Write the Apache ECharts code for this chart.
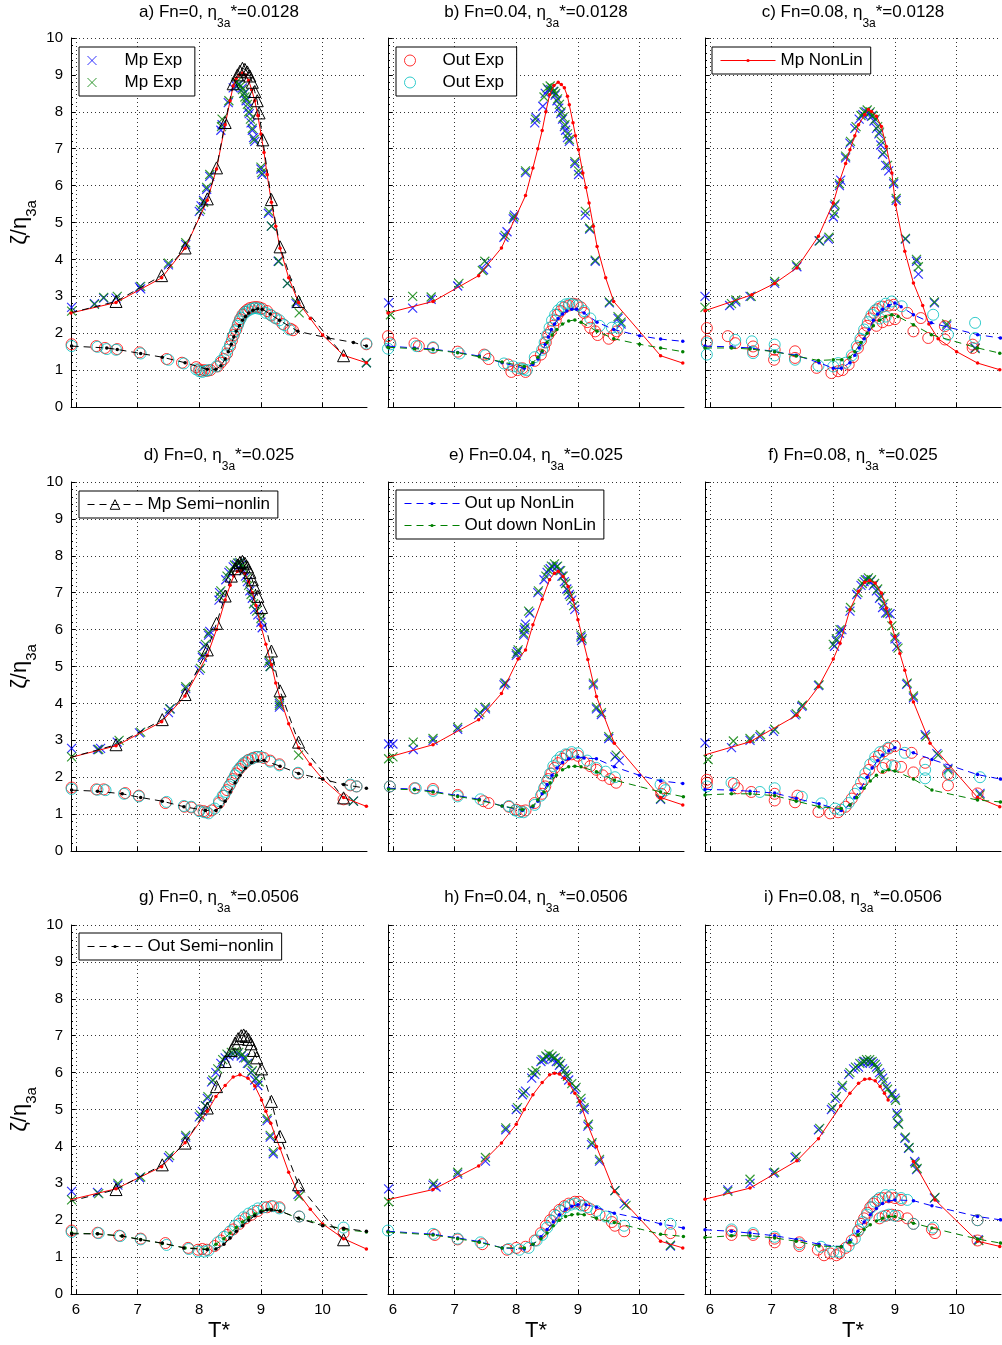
<!DOCTYPE html>
<html>
<head>
<meta charset="utf-8">
<script src="https://cdn.jsdelivr.net/npm/echarts@6/dist/echarts.min.js"></script>
<style>
  html, body { margin: 0; padding: 0; background: #fff; }
  #chart-container { width: 1002px; height: 1345px; }
</style>
</head>
<body>
<div id="chart-container"></div>
<script>
// ---- datos: ejes ----
const xTicks = [6, 7, 8, 9, 10];
const panelTitles = [
  ['a) Fn=0, η', '3a', '*=0.0128'], ['b) Fn=0.04, η', '3a', '*=0.0128'], ['c) Fn=0.08, η', '3a', '*=0.0128'],
  ['d) Fn=0, η', '3a', '*=0.025'], ['e) Fn=0.04, η', '3a', '*=0.025'], ['f) Fn=0.08, η', '3a', '*=0.025'],
  ['g) Fn=0, η', '3a', '*=0.0506'], ['h) Fn=0.04, η', '3a', '*=0.0506'], ['i) Fn=0.08, η', '3a', '*=0.0506']
];

// ---- panel a ----
const aMpExpBlue = [[5.93,2.7],[6.3,2.8],[6.45,2.95],[6.65,2.95],[7.03,3.25],[7.05,3.2],[7.5,3.85],[7.78,4.4],[8.0,5.3],[8.03,5.45],[8.07,5.6],[8.12,5.9],[8.17,6.25],[8.35,7.5],[8.37,7.65],[8.47,8.25],[8.55,8.65],[8.6,8.7],[8.65,8.75],[8.7,8.65],[8.73,8.5],[8.76,8.3],[8.79,8.1],[8.81,7.95],[8.84,7.7],[8.86,7.5],[8.88,7.3],[8.9,7.2],[9.0,6.45],[9.02,6.3],[9.12,5.25],[9.17,4.9],[9.28,3.95],[9.43,3.35],[9.57,2.8],[10.71,1.2]];
const aMpExpGreen = [[5.93,2.6],[6.3,2.78],[6.45,2.97],[6.67,3.0],[7.05,3.27],[7.5,3.9],[7.78,4.45],[8.02,5.35],[8.07,5.55],[8.12,5.95],[8.17,6.3],[8.36,7.6],[8.37,7.8],[8.48,8.3],[8.6,8.8],[8.64,8.75],[8.67,8.7],[8.7,8.6],[8.72,8.5],[8.74,8.4],[8.76,8.35],[8.78,8.2],[8.8,8.0],[8.83,7.8],[8.86,7.55],[8.89,7.25],[9.0,6.5],[9.01,6.35],[9.13,5.3],[9.17,4.9],[9.29,3.95],[9.43,3.35],[9.57,2.85],[9.62,2.55],[10.71,1.2]];
const aOutExpRed = [[5.93,1.7],[6.33,1.65],[6.47,1.6],[6.67,1.57],[7.03,1.48],[7.47,1.3],[7.72,1.2],[7.95,1.08],[8.0,1.02],[8.03,0.98],[8.08,1.0],[8.13,0.98],[8.18,1.0],[8.3,1.1],[8.35,1.2],[8.4,1.3],[8.45,1.45],[8.5,1.65],[8.53,1.8],[8.56,1.95],[8.6,2.1],[8.63,2.25],[8.66,2.38],[8.7,2.5],[8.74,2.58],[8.78,2.64],[8.82,2.68],[8.87,2.7],[8.92,2.71],[8.97,2.7],[9.02,2.67],[9.1,2.6],[9.17,2.48],[9.25,2.4],[9.35,2.25],[9.48,2.12],[9.52,2.08],[10.71,1.7]];
const aOutExpCyan = [[5.93,1.65],[6.35,1.63],[6.5,1.57],[6.65,1.55],[7.05,1.45],[7.5,1.28],[7.75,1.18],[7.95,1.02],[8.0,0.97],[8.05,0.95],[8.1,0.98],[8.15,1.0],[8.28,1.1],[8.35,1.25],[8.42,1.4],[8.46,1.55],[8.5,1.7],[8.54,1.9],[8.58,2.05],[8.62,2.2],[8.65,2.32],[8.68,2.42],[8.72,2.52],[8.76,2.58],[8.8,2.62],[8.85,2.66],[8.9,2.68],[8.95,2.67],[9.0,2.65],[9.08,2.55],[9.15,2.5],[9.22,2.42],[9.3,2.35],[9.38,2.22],[9.46,2.1],[10.71,1.72]];
const aMpNonLin = [[5.92,2.55],[6.65,2.83],[7.39,3.5],[7.77,4.3],[8.13,5.6],[8.28,6.45],[8.42,7.65],[8.5,8.3],[8.55,8.7],[8.6,8.9],[8.65,9.0],[8.7,9.05],[8.75,9.0],[8.8,8.85],[8.85,8.6],[8.9,8.3],[8.95,7.9],[9.0,7.4],[9.05,6.9],[9.1,6.3],[9.17,5.55],[9.24,4.9],[9.31,4.3],[9.45,3.5],[9.61,2.83],[9.8,2.4],[10.0,1.95],[10.34,1.4],[10.71,1.2]];
const aMpSemi = [[5.91,2.55],[6.65,2.86],[7.39,3.56],[7.77,4.31],[8.13,5.64],[8.28,6.48],[8.42,7.71],[8.55,8.76],[8.62,9.0],[8.66,9.1],[8.7,9.18],[8.74,9.15],[8.78,9.08],[8.82,8.97],[8.86,8.8],[8.9,8.55],[8.94,8.3],[8.97,7.97],[9.03,7.24],[9.17,5.62],[9.31,4.34],[9.61,2.86],[10.34,1.39]];
const aOutSemi = [[5.93,1.65],[6.5,1.6],[6.67,1.56],[7.05,1.45],[7.4,1.35],[7.77,1.2],[8.13,1.02],[8.27,1.02],[8.35,1.12],[8.42,1.3],[8.47,1.5],[8.52,1.7],[8.56,1.9],[8.6,2.05],[8.65,2.2],[8.7,2.35],[8.75,2.45],[8.8,2.55],[8.87,2.62],[8.95,2.66],[9.02,2.65],[9.15,2.52],[9.3,2.35],[9.6,2.05],[10.09,1.87],[10.5,1.75],[10.71,1.65]];

// ---- panel b ----
const bMpExpBlue = [[5.93,2.82],[6.32,2.68],[6.62,2.92],[7.05,3.28],[7.47,3.72],[7.52,3.9],[7.8,4.6],[7.85,4.75],[7.95,5.1],[7.97,5.2],[8.15,6.35],[8.3,7.7],[8.32,7.85],[8.43,8.15],[8.47,8.5],[8.52,8.6],[8.56,8.6],[8.6,8.55],[8.63,8.45],[8.66,8.3],[8.69,8.1],[8.72,7.95],[8.75,7.8],[8.78,7.6],[8.8,7.5],[8.83,7.3],[8.86,7.2],[8.95,6.6],[9.01,6.3],[9.12,5.2],[9.19,4.82],[9.28,3.95],[9.51,2.82],[9.65,2.4],[9.7,2.25]];
const bMpExpGreen = [[5.96,2.5],[6.32,3.0],[6.62,2.98],[7.07,3.35],[7.49,3.95],[7.45,3.7],[7.82,4.65],[7.96,5.15],[8.15,6.4],[8.31,7.8],[8.45,8.4],[8.5,8.65],[8.55,8.7],[8.58,8.65],[8.61,8.55],[8.64,8.5],[8.67,8.35],[8.7,8.2],[8.73,8.0],[8.76,7.85],[8.79,7.65],[8.83,7.4],[8.86,7.25],[8.95,6.65],[9.01,6.4],[9.12,5.3],[9.19,4.85],[9.28,3.98],[9.51,2.85],[9.65,2.45],[9.7,2.3]];
const bOutExpRed = [[5.92,1.92],[5.95,1.75],[6.35,1.72],[6.42,1.65],[6.65,1.6],[7.05,1.5],[7.48,1.42],[7.55,1.3],[7.87,1.15],[7.92,0.95],[8.02,1.0],[8.1,1.05],[8.15,0.95],[8.3,1.25],[8.4,1.42],[8.45,1.6],[8.48,1.75],[8.52,1.95],[8.56,2.05],[8.6,2.2],[8.64,2.35],[8.67,2.5],[8.72,2.6],[8.78,2.7],[8.85,2.75],[8.92,2.8],[8.98,2.78],[9.05,2.7],[9.1,2.55],[9.15,2.3],[9.2,2.15],[9.28,2.05],[9.32,1.95],[9.5,1.85],[9.58,1.95],[9.63,2.05]];
const bOutExpCyan = [[5.92,1.58],[5.96,1.7],[6.38,1.65],[6.65,1.62],[7.08,1.45],[7.5,1.4],[7.8,1.18],[7.95,1.1],[8.05,1.05],[8.12,1.02],[8.17,1.0],[8.3,1.35],[8.42,1.55],[8.46,1.75],[8.5,1.95],[8.54,2.15],[8.58,2.35],[8.63,2.5],[8.68,2.62],[8.74,2.72],[8.8,2.78],[8.86,2.8],[8.92,2.78],[9.0,2.75],[9.1,2.6],[9.2,2.4],[9.35,2.2],[9.55,2.15],[9.65,2.15]];
const bMpNonLin = [[5.92,2.55],[6.65,2.86],[7.39,3.56],[7.76,4.31],[8.15,5.73],[8.27,6.48],[8.35,7.0],[8.42,7.49],[8.48,8.0],[8.54,8.46],[8.61,8.71],[8.68,8.8],[8.73,8.74],[8.78,8.65],[8.83,8.42],[8.86,8.19],[8.92,7.7],[8.96,7.35],[9.01,6.97],[9.08,6.34],[9.13,5.95],[9.18,5.53],[9.25,4.9],[9.31,4.35],[9.45,3.5],[9.58,2.86],[10.34,1.39],[10.7,1.19]];
const bOutUpNonLin = [[5.92,1.65],[6.35,1.6],[6.65,1.57],[7.05,1.48],[7.4,1.38],[7.77,1.2],[8.13,1.05],[8.27,1.15],[8.35,1.3],[8.42,1.5],[8.47,1.7],[8.52,1.9],[8.57,2.1],[8.62,2.25],[8.68,2.4],[8.75,2.52],[8.82,2.6],[8.9,2.65],[8.98,2.65],[9.1,2.55],[9.31,2.3],[9.58,2.1],[10.0,1.93],[10.34,1.84],[10.7,1.78]];
const bOutDownNonLin = [[5.92,1.62],[6.35,1.58],[6.65,1.55],[7.05,1.47],[7.4,1.36],[7.77,1.22],[8.13,1.1],[8.27,1.2],[8.35,1.35],[8.42,1.52],[8.5,1.75],[8.58,1.95],[8.66,2.1],[8.75,2.25],[8.85,2.33],[8.95,2.36],[9.05,2.3],[9.31,2.05],[9.58,1.85],[10.0,1.7],[10.34,1.6],[10.7,1.5]];

// ---- panel c ----
const cMpExpBlue = [[5.92,3.0],[6.32,2.75],[6.42,2.85],[6.65,3.0],[7.05,3.35],[7.41,3.8],[7.77,4.5],[7.92,4.55],[8.0,5.15],[8.02,5.45],[8.1,6.0],[8.12,6.15],[8.2,6.75],[8.27,7.15],[8.35,7.55],[8.42,7.8],[8.48,7.92],[8.53,8.0],[8.58,7.95],[8.62,7.88],[8.66,7.75],[8.7,7.55],[8.74,7.4],[8.77,7.1],[8.8,6.85],[8.85,6.55],[8.9,6.4],[8.98,6.05],[9.02,5.6],[9.17,4.55],[9.35,3.95],[9.38,3.6],[9.64,2.82],[9.84,2.2],[10.3,1.6]];
const cMpExpGreen = [[5.92,2.7],[6.35,2.8],[6.42,2.9],[6.67,3.0],[7.05,3.4],[7.4,3.85],[7.78,4.5],[7.93,4.6],[8.02,5.25],[8.03,5.5],[8.1,6.05],[8.2,6.8],[8.28,7.2],[8.37,7.6],[8.45,7.9],[8.5,8.0],[8.55,8.05],[8.6,8.0],[8.64,7.9],[8.68,7.8],[8.72,7.6],[8.75,7.45],[8.78,7.2],[8.82,6.9],[8.88,6.55],[8.98,6.1],[9.02,5.65],[9.17,4.57],[9.35,4.0],[9.38,3.8],[9.64,2.85],[9.84,2.25],[10.3,1.58]];
const cOutExpRed = [[5.95,2.14],[5.95,1.78],[6.29,1.92],[6.41,1.73],[6.7,1.64],[6.7,1.51],[7.04,1.28],[7.05,1.55],[7.38,1.51],[7.38,1.33],[7.73,1.06],[7.97,0.92],[8.08,0.97],[8.15,1.0],[8.25,1.15],[8.32,1.35],[8.4,1.6],[8.45,1.8],[8.5,2.0],[8.55,2.2],[8.6,2.4],[8.66,2.55],[8.72,2.65],[8.8,2.72],[8.9,2.75],[8.98,2.77],[8.7,2.2],[8.8,2.3],[8.9,2.35],[9.0,2.38],[9.2,2.55],[9.42,2.41],[9.3,2.05],[9.54,1.87],[9.81,2.19],[9.81,1.83],[10.26,1.69],[10.26,1.6]];
const cOutExpCyan = [[5.95,1.73],[5.95,1.42],[6.41,1.82],[6.68,1.78],[6.7,1.46],[7.05,1.69],[7.05,1.4],[7.38,1.28],[7.76,1.12],[8.0,1.1],[8.08,1.19],[8.2,1.2],[8.3,1.4],[8.38,1.65],[8.44,1.85],[8.5,2.1],[8.56,2.3],[8.62,2.5],[8.68,2.62],[8.75,2.72],[8.85,2.8],[8.95,2.86],[9.11,2.73],[8.75,2.4],[8.85,2.45],[9.62,2.5],[9.86,1.96],[10.3,2.28],[10.3,1.87]];
const cMpNonLin = [[5.92,2.61],[6.68,3.04],[7.05,3.35],[7.41,3.77],[7.76,4.63],[8.0,5.53],[8.11,6.16],[8.2,6.6],[8.27,6.97],[8.35,7.35],[8.41,7.65],[8.51,7.92],[8.57,8.06],[8.62,8.01],[8.7,7.88],[8.78,7.6],[8.86,7.06],[8.95,6.34],[9.01,5.48],[9.16,4.22],[9.3,3.36],[9.45,2.75],[9.55,2.25],[9.7,1.85],[10.0,1.5],[10.34,1.19],[10.7,1.01]];
const cOutUpNonLin = [[5.92,1.65],[6.35,1.63],[6.65,1.6],[7.05,1.5],[7.4,1.4],[7.77,1.2],[8.0,1.05],[8.13,1.05],[8.27,1.2],[8.35,1.4],[8.42,1.6],[8.5,1.85],[8.58,2.1],[8.65,2.35],[8.72,2.52],[8.8,2.65],[8.9,2.75],[9.0,2.82],[9.1,2.72],[9.3,2.5],[9.59,2.28],[10.34,1.96],[10.71,1.87]];
const cOutDownNonLin = [[5.92,1.6],[6.35,1.6],[6.65,1.57],[7.05,1.5],[7.4,1.38],[7.76,1.26],[8.0,1.28],[8.14,1.28],[8.27,1.35],[8.35,1.5],[8.45,1.75],[8.55,2.0],[8.65,2.2],[8.75,2.35],[8.85,2.45],[8.95,2.5],[9.05,2.45],[9.3,2.23],[9.59,1.96],[10.34,1.6],[10.7,1.46]];

// ---- panel d ----
const dMpExpBlue = [[5.93,2.78],[6.35,2.75],[6.4,2.78],[6.67,2.95],[7.03,3.2],[7.5,3.75],[7.53,3.85],[7.78,4.4],[8.0,4.9],[8.05,5.25],[8.08,5.55],[8.15,5.85],[8.17,5.95],[8.32,6.8],[8.33,7.0],[8.43,7.35],[8.48,7.55],[8.55,7.7],[8.6,7.75],[8.64,7.8],[8.68,7.75],[8.72,7.6],[8.75,7.45],[8.78,7.3],[8.82,7.05],[8.86,6.85],[8.9,6.55],[8.95,6.4],[9.0,6.2],[9.02,6.05],[9.13,5.1],[9.15,5.0],[9.3,4.0],[9.3,3.9],[10.5,1.35]];
const dMpExpGreen = [[5.93,2.55],[6.37,2.75],[6.7,3.0],[7.05,3.22],[7.52,3.85],[7.78,4.45],[8.02,4.95],[8.05,5.3],[8.1,5.6],[8.15,5.9],[8.33,6.9],[8.35,7.05],[8.45,7.45],[8.5,7.6],[8.57,7.75],[8.62,7.8],[8.66,7.82],[8.7,7.75],[8.73,7.65],[8.77,7.4],[8.8,7.2],[8.84,6.95],[8.88,6.7],[8.93,6.5],[9.0,6.3],[9.13,5.15],[9.15,5.0],[9.3,4.05],[9.3,3.95],[9.61,2.6],[10.5,1.35]];
const dOutExpRed = [[5.93,1.72],[6.33,1.67],[6.45,1.67],[6.8,1.57],[7.02,1.5],[7.45,1.3],[7.76,1.2],[7.87,1.18],[8.0,1.1],[8.07,1.08],[8.12,1.05],[8.2,1.1],[8.32,1.3],[8.4,1.5],[8.45,1.65],[8.5,1.8],[8.55,1.95],[8.6,2.1],[8.65,2.22],[8.7,2.32],[8.75,2.4],[8.8,2.47],[8.87,2.52],[8.95,2.55],[9.05,2.52],[9.15,2.45],[9.3,2.35],[9.6,2.1],[10.34,1.4],[10.45,1.78],[10.55,1.75]];
const dOutExpCyan = [[5.93,1.68],[6.35,1.66],[6.48,1.65],[6.78,1.55],[7.02,1.48],[7.47,1.33],[7.75,1.22],[7.87,1.2],[8.0,1.08],[8.08,1.05],[8.15,1.02],[8.25,1.15],[8.32,1.35],[8.38,1.5],[8.43,1.6],[8.48,1.75],[8.53,1.9],[8.58,2.05],[8.62,2.18],[8.67,2.28],[8.72,2.38],[8.78,2.45],[8.85,2.5],[8.92,2.55],[9.0,2.55],[9.15,2.42],[9.3,2.32],[9.6,2.12],[10.45,1.8],[10.55,1.75]];
const dMpNonLin = [[5.9,2.53],[6.65,2.85],[7.39,3.5],[7.77,4.2],[8.13,5.3],[8.28,6.0],[8.42,6.8],[8.5,7.2],[8.56,7.45],[8.62,7.58],[8.68,7.6],[8.74,7.52],[8.8,7.3],[8.86,7.0],[8.92,6.65],[9.0,6.1],[9.08,5.6],[9.17,5.05],[9.24,4.55],[9.31,4.15],[9.45,3.45],[9.61,2.8],[9.8,2.35],[10.0,1.95],[10.34,1.45],[10.71,1.21]];
const dMpSemi = [[5.9,2.53],[6.65,2.88],[7.4,3.56],[7.77,4.24],[8.13,5.45],[8.28,6.17],[8.42,6.91],[8.52,7.45],[8.58,7.65],[8.62,7.75],[8.66,7.82],[8.7,7.85],[8.74,7.8],[8.78,7.7],[8.82,7.55],[8.86,7.35],[8.9,7.15],[8.95,6.9],[9.01,6.6],[9.17,5.42],[9.31,4.34],[9.61,2.95],[10.34,1.44]];
const dOutSemi = [[5.93,1.65],[6.35,1.62],[6.75,1.55],[7.05,1.45],[7.4,1.35],[7.75,1.2],[8.1,1.1],[8.27,1.1],[8.35,1.2],[8.42,1.35],[8.5,1.6],[8.58,1.85],[8.66,2.05],[8.75,2.25],[8.85,2.4],[8.95,2.45],[9.05,2.45],[9.31,2.3],[9.61,2.1],[10.0,1.95],[10.34,1.8],[10.71,1.7]];

// ---- panel e ----
const eMpExpBlue = [[5.93,2.9],[6.0,2.9],[6.33,2.75],[6.65,3.0],[7.05,3.3],[7.39,3.7],[7.5,3.85],[7.8,4.5],[7.83,4.55],[8.0,5.3],[8.02,5.4],[8.12,5.85],[8.13,6.0],[8.15,6.15],[8.22,6.45],[8.35,7.0],[8.45,7.35],[8.5,7.55],[8.55,7.65],[8.6,7.7],[8.65,7.7],[8.7,7.6],[8.74,7.45],[8.78,7.3],[8.82,7.1],[8.86,6.95],[8.9,6.8],[8.95,6.55],[9.05,5.8],[9.06,5.7],[9.25,4.5],[9.3,3.85],[9.38,3.7],[9.5,3.05],[9.6,2.55],[9.67,2.45],[10.34,1.4]];
const eMpExpGreen = [[5.93,2.5],[6.0,2.55],[6.33,2.95],[6.65,3.05],[7.05,3.35],[7.41,3.75],[7.5,3.9],[7.81,4.55],[8.0,5.35],[8.03,5.45],[8.12,5.9],[8.14,6.05],[8.2,6.5],[8.36,7.05],[8.48,7.45],[8.52,7.62],[8.57,7.72],[8.62,7.78],[8.67,7.72],[8.72,7.6],[8.76,7.45],[8.8,7.25],[8.84,7.05],[8.88,6.9],[8.93,6.65],[9.05,5.85],[9.07,5.75],[9.25,4.55],[9.3,3.9],[9.38,3.75],[9.5,3.1],[9.62,2.6],[10.34,1.42]];
const eOutExpRed = [[5.9,1.8],[5.95,1.75],[6.35,1.7],[6.65,1.68],[7.05,1.52],[7.47,1.35],[7.55,1.3],[7.88,1.2],[8.0,1.12],[8.08,1.08],[8.15,1.1],[8.3,1.3],[8.42,1.55],[8.47,1.75],[8.52,1.95],[8.57,2.1],[8.62,2.25],[8.68,2.38],[8.75,2.5],[8.82,2.6],[8.9,2.62],[9.0,2.58],[9.1,2.4],[9.2,2.3],[9.3,2.2],[9.4,2.05],[9.52,1.95],[9.62,1.85],[10.35,1.55],[10.4,1.7]];
const eOutExpCyan = [[5.9,1.72],[5.95,1.75],[6.37,1.7],[6.65,1.63],[7.05,1.48],[7.42,1.4],[7.88,1.22],[7.98,1.1],[8.05,1.05],[8.12,1.05],[8.3,1.25],[8.4,1.5],[8.45,1.7],[8.5,1.9],[8.55,2.1],[8.6,2.3],[8.66,2.45],[8.72,2.55],[8.8,2.62],[8.9,2.68],[9.0,2.65],[9.15,2.45],[9.3,2.25],[9.45,2.15],[9.6,2.0],[10.34,1.8],[10.42,1.65]];
const eMpNonLin = [[5.9,2.53],[6.65,2.88],[7.39,3.56],[7.76,4.27],[8.03,5.2],[8.15,5.45],[8.27,6.13],[8.42,6.82],[8.54,7.35],[8.62,7.53],[8.68,7.58],[8.76,7.44],[8.84,7.17],[8.92,6.81],[9.0,6.27],[9.08,5.73],[9.16,5.19],[9.3,4.19],[9.59,2.92],[10.34,1.45],[10.7,1.25]];
const eOutUpNonLin = [[5.93,1.7],[6.35,1.68],[6.65,1.62],[7.05,1.5],[7.4,1.4],[7.77,1.22],[8.1,1.1],[8.27,1.2],[8.35,1.35],[8.42,1.55],[8.5,1.8],[8.58,2.05],[8.66,2.25],[8.75,2.4],[8.85,2.5],[9.0,2.55],[9.1,2.52],[9.3,2.5],[9.59,2.28],[10.0,2.05],[10.34,1.9],[10.7,1.83]];
const eOutDownNonLin = [[5.93,1.68],[6.35,1.66],[6.65,1.6],[7.05,1.48],[7.4,1.38],[7.77,1.22],[8.1,1.12],[8.27,1.22],[8.35,1.38],[8.45,1.6],[8.55,1.85],[8.65,2.05],[8.75,2.2],[8.85,2.28],[8.95,2.3],[9.05,2.28],[9.3,2.15],[9.59,1.92],[10.34,1.6],[10.71,1.47]];

// ---- panel f ----
const fMpExpBlue = [[5.92,2.93],[6.35,2.8],[6.65,3.0],[6.81,3.1],[7.03,3.24],[7.38,3.69],[7.49,3.92],[7.76,4.48],[8.02,5.55],[8.05,5.7],[8.1,5.9],[8.14,6.0],[8.27,6.5],[8.38,6.95],[8.45,7.2],[8.5,7.3],[8.55,7.35],[8.6,7.3],[8.65,7.2],[8.7,7.05],[8.75,6.85],[8.8,6.6],[8.85,6.45],[8.92,6.43],[9.0,5.75],[9.03,5.54],[9.19,4.52],[9.3,4.15],[9.49,3.15],[9.68,2.64],[9.86,2.24],[10.38,1.56]];
const fMpExpGreen = [[5.97,2.48],[6.38,2.98],[6.65,3.05],[6.82,3.15],[7.05,3.3],[7.4,3.72],[7.5,3.95],[7.77,4.5],[8.0,5.6],[8.05,5.75],[8.11,6.0],[8.28,6.6],[8.4,7.0],[8.47,7.25],[8.52,7.35],[8.57,7.4],[8.62,7.35],[8.67,7.25],[8.72,7.1],[8.77,6.9],[8.82,6.7],[8.88,6.45],[8.95,6.1],[9.0,5.8],[9.05,5.5],[9.2,4.55],[9.3,4.2],[9.5,3.1],[9.7,2.6],[9.86,2.2],[10.38,1.52]];
const fOutExpRed = [[5.95,1.93],[5.95,1.85],[6.39,1.82],[6.45,1.7],[6.67,1.6],[7.05,1.55],[7.05,1.37],[7.38,1.32],[7.42,1.5],[7.76,1.06],[7.95,1.02],[8.08,1.05],[8.2,1.2],[8.3,1.42],[8.4,1.68],[8.5,1.95],[8.58,2.2],[8.66,2.42],[8.74,2.58],[8.82,2.7],[8.9,2.78],[9.0,2.84],[9.27,2.66],[9.49,2.39],[8.8,2.25],[8.95,2.32],[9.1,2.28],[9.3,2.13],[9.86,2.09],[9.86,1.78],[10.34,1.56]];
const fOutExpCyan = [[5.95,1.75],[6.35,1.85],[6.81,1.6],[7.05,1.7],[7.49,1.47],[7.81,1.29],[8.03,1.15],[8.12,1.12],[8.25,1.3],[8.35,1.55],[8.45,1.85],[8.52,2.1],[8.6,2.35],[8.68,2.55],[8.76,2.68],[8.89,2.8],[9.16,2.66],[8.85,2.35],[9.0,2.3],[9.49,2.2],[9.49,1.97],[9.9,2.05],[10.38,2.0]];
const fMpNonLin = [[5.91,2.6],[6.65,2.96],[7.41,3.68],[7.76,4.45],[8.0,5.2],[8.11,5.63],[8.27,6.54],[8.41,7.04],[8.51,7.28],[8.59,7.33],[8.68,7.26],[8.78,6.99],[8.86,6.58],[8.93,6.2],[9.0,5.81],[9.08,5.35],[9.16,4.9],[9.3,4.04],[9.57,2.92],[10.34,1.45],[10.7,1.2]];
const fOutUpNonLin = [[5.92,1.67],[6.35,1.65],[6.65,1.62],[7.05,1.57],[7.4,1.42],[7.77,1.28],[8.13,1.1],[8.27,1.25],[8.35,1.45],[8.45,1.7],[8.55,2.0],[8.63,2.25],[8.72,2.45],[8.8,2.6],[8.9,2.72],[9.0,2.8],[9.3,2.66],[9.6,2.48],[10.34,2.07],[10.71,1.95]];
const fOutDownNonLin = [[5.92,1.52],[6.35,1.55],[6.65,1.55],[7.05,1.5],[7.4,1.35],[7.77,1.2],[8.13,1.15],[8.27,1.25],[8.38,1.45],[8.5,1.7],[8.6,1.9],[8.7,2.05],[8.8,2.15],[8.9,2.2],[9.0,2.17],[9.3,1.95],[9.6,1.65],[10.34,1.38],[10.71,1.33]];

// ---- panel g ----
const gMpExpBlue = [[5.93,2.78],[6.35,2.75],[6.68,2.95],[7.03,3.15],[7.5,3.7],[7.78,4.25],[8.0,4.8],[8.05,4.95],[8.1,5.1],[8.13,5.3],[8.2,5.75],[8.27,6.0],[8.35,6.25],[8.42,6.4],[8.48,6.45],[8.55,6.5],[8.62,6.5],[8.68,6.45],[8.72,6.4],[8.78,6.25],[8.84,6.0],[8.9,5.8],[8.95,5.65],[9.1,4.7],[9.15,4.25],[9.2,3.8],[9.6,2.7]];
const gMpExpGreen = [[5.93,2.55],[6.37,2.72],[6.68,3.0],[7.05,3.17],[7.52,3.75],[7.78,4.3],[8.02,4.85],[8.1,5.1],[8.14,5.35],[8.22,5.8],[8.3,6.1],[8.38,6.35],[8.45,6.5],[8.52,6.55],[8.58,6.57],[8.64,6.55],[8.7,6.5],[8.75,6.4],[8.8,6.25],[8.86,6.05],[8.92,5.85],[8.97,5.75],[9.1,4.75],[9.15,4.3],[9.2,3.85],[9.62,2.65]];
const gOutExpRed = [[5.93,1.72],[6.35,1.66],[6.7,1.58],[7.05,1.5],[7.45,1.38],[7.82,1.25],[7.98,1.2],[8.05,1.22],[8.12,1.2],[8.25,1.3],[8.35,1.45],[8.45,1.6],[8.55,1.75],[8.65,1.9],[8.75,2.05],[8.85,2.15],[8.95,2.25],[9.1,2.35],[9.17,2.38],[9.3,2.35],[9.62,2.1],[10.34,1.65]];
const gOutExpCyan = [[5.93,1.68],[6.37,1.65],[6.72,1.57],[7.05,1.48],[7.47,1.33],[7.83,1.22],[7.98,1.15],[8.08,1.15],[8.15,1.18],[8.3,1.4],[8.4,1.55],[8.5,1.7],[8.58,1.85],[8.65,1.98],[8.72,2.08],[8.8,2.18],[8.88,2.25],[8.95,2.32],[9.05,2.35],[9.2,2.38],[9.3,2.32],[9.62,2.1],[10.34,1.8]];
const gMpNonLin = [[5.9,2.55],[6.65,2.85],[7.39,3.45],[7.77,4.1],[8.13,4.95],[8.27,5.35],[8.42,5.65],[8.55,5.88],[8.66,5.94],[8.79,5.85],[8.9,5.64],[9.01,5.26],[9.08,4.95],[9.16,4.63],[9.24,4.25],[9.31,3.95],[9.45,3.3],[9.6,2.75],[9.8,2.3],[10.0,1.9],[10.34,1.5],[10.71,1.22]];
const gOutDownNonLin = [[5.93,1.65],[6.35,1.63],[6.75,1.57],[7.05,1.48],[7.4,1.37],[7.77,1.25],[8.13,1.22],[8.27,1.35],[8.4,1.5],[8.5,1.65],[8.6,1.8],[8.7,1.95],[8.8,2.07],[8.9,2.17],[9.0,2.25],[9.15,2.3],[9.31,2.25],[9.61,2.05],[10.34,1.75],[10.71,1.68]];
const gMpSemi = [[5.9,2.51],[6.65,2.83],[7.4,3.5],[7.77,4.09],[8.13,5.04],[8.28,5.62],[8.42,6.3],[8.52,6.6],[8.58,6.8],[8.63,6.92],[8.68,7.0],[8.72,7.02],[8.76,6.98],[8.8,6.9],[8.84,6.78],[8.88,6.6],[8.93,6.4],[9.01,6.1],[9.17,5.22],[9.31,4.27],[9.61,2.96],[10.34,1.47]];
const gOutSemi = [[5.93,1.63],[6.35,1.63],[6.75,1.57],[7.05,1.47],[7.4,1.38],[7.75,1.25],[8.13,1.2],[8.27,1.22],[8.4,1.35],[8.5,1.52],[8.6,1.7],[8.7,1.85],[8.8,2.0],[8.9,2.12],[9.0,2.22],[9.1,2.28],[9.17,2.28],[9.31,2.25],[9.61,2.05],[10.0,1.85],[10.34,1.78],[10.71,1.7]];

// ---- panel h ----
const hMpExpBlue = [[5.93,2.85],[6.65,2.95],[6.7,2.9],[7.05,3.25],[7.5,3.6],[7.83,4.45],[8.0,5.0],[8.1,5.4],[8.15,5.5],[8.25,5.85],[8.3,5.95],[8.4,6.3],[8.45,6.35],[8.5,6.42],[8.55,6.4],[8.6,6.38],[8.65,6.3],[8.7,6.2],[8.75,6.1],[8.8,5.95],[8.85,5.8],[8.95,5.55],[9.05,5.2],[9.1,5.0],[9.16,4.55],[9.22,4.05],[9.35,3.6],[9.6,2.8],[9.75,2.45],[10.5,1.3]];
const hMpExpGreen = [[5.93,2.5],[6.66,3.0],[7.05,3.3],[7.5,3.7],[7.83,4.5],[8.02,5.05],[8.12,5.45],[8.26,6.0],[8.32,6.05],[8.42,6.35],[8.48,6.45],[8.53,6.5],[8.58,6.45],[8.63,6.4],[8.68,6.3],[8.72,6.25],[8.78,6.05],[8.83,5.9],[8.9,5.7],[8.97,5.6],[9.05,5.3],[9.1,5.05],[9.17,4.6],[9.23,4.1],[9.35,3.65],[9.6,2.8],[9.78,2.4],[10.5,1.32]];
const hOutExpRed = [[5.9,1.8],[6.68,1.6],[7.05,1.48],[7.45,1.35],[7.85,1.2],[8.0,1.25],[8.15,1.28],[8.3,1.45],[8.4,1.65],[8.48,1.85],[8.55,2.0],[8.62,2.15],[8.7,2.28],[8.78,2.38],[8.85,2.45],[8.95,2.5],[9.02,2.5],[9.1,2.4],[9.2,2.3],[9.35,2.15],[9.55,1.95],[9.6,1.85],[9.75,1.7],[10.5,1.65]];
const hOutExpCyan = [[5.92,1.72],[6.65,1.63],[7.05,1.5],[7.42,1.4],[7.88,1.22],[8.05,1.2],[8.2,1.25],[8.33,1.45],[8.42,1.6],[8.5,1.8],[8.58,1.98],[8.65,2.12],[8.72,2.25],[8.8,2.35],[8.88,2.42],[8.95,2.45],[9.05,2.4],[9.15,2.35],[9.3,2.25],[9.45,2.1],[9.55,2.05],[9.75,1.85],[10.5,1.9]];
const hMpNonLin = [[5.9,2.55],[6.65,2.83],[7.39,3.47],[7.76,4.09],[8.0,4.6],[8.13,5.0],[8.27,5.4],[8.42,5.73],[8.54,5.94],[8.62,5.98],[8.7,5.96],[8.78,5.85],[8.86,5.69],[8.95,5.44],[9.03,5.22],[9.16,4.58],[9.3,4.0],[9.59,2.78],[10.34,1.43],[10.7,1.25]];
const hOutUpNonLin = [[5.92,1.7],[6.65,1.62],[7.05,1.52],[7.4,1.42],[7.77,1.25],[8.13,1.22],[8.27,1.35],[8.4,1.55],[8.5,1.75],[8.6,1.95],[8.7,2.15],[8.8,2.3],[8.9,2.38],[9.0,2.42],[9.13,2.42],[9.3,2.35],[9.59,2.19],[10.0,2.05],[10.34,1.9],[10.71,1.79]];
const hOutDownNonLin = [[5.92,1.68],[6.65,1.6],[7.05,1.5],[7.4,1.4],[7.77,1.25],[8.13,1.25],[8.27,1.35],[8.4,1.5],[8.5,1.65],[8.6,1.85],[8.7,2.0],[8.8,2.1],[8.9,2.15],[9.0,2.17],[9.1,2.15],[9.3,2.05],[9.59,1.94],[10.34,1.62],[10.71,1.56]];

// ---- panel i ----
const iMpExpBlue = [[6.29,2.82],[6.65,3.0],[7.03,3.28],[7.38,3.7],[7.76,4.45],[7.97,5.0],[8.03,5.3],[8.14,5.6],[8.25,5.95],[8.33,6.1],[8.41,6.15],[8.47,6.25],[8.51,6.3],[8.56,6.3],[8.6,6.28],[8.65,6.25],[8.7,6.15],[8.75,6.0],[8.8,5.85],[8.86,5.62],[8.95,5.44],[9.0,5.31],[9.03,4.9],[9.05,4.63],[9.16,4.22],[9.22,3.95],[9.32,3.59],[9.35,3.37],[9.64,2.6],[10.35,1.47]];
const iMpExpGreen = [[6.29,2.78],[6.65,3.11],[7.05,3.3],[7.4,3.73],[7.78,4.49],[7.99,5.05],[8.05,5.35],[8.15,5.65],[8.27,6.0],[8.36,6.15],[8.43,6.25],[8.49,6.3],[8.54,6.35],[8.59,6.35],[8.63,6.3],[8.68,6.22],[8.72,6.1],[8.77,5.95],[8.82,5.75],[8.88,5.55],[8.95,5.4],[9.01,5.25],[9.04,4.85],[9.06,4.6],[9.17,4.25],[9.23,3.97],[9.33,3.55],[9.36,3.4],[9.65,2.62],[10.36,1.45]];
const iOutExpRed = [[6.35,1.7],[6.35,1.6],[6.7,1.6],[7.05,1.5],[7.05,1.4],[7.45,1.4],[7.45,1.3],[7.75,1.2],[7.85,1.05],[7.95,1.1],[8.05,1.05],[8.1,1.1],[8.2,1.25],[8.3,1.45],[8.4,1.7],[8.45,1.9],[8.5,2.05],[8.55,2.2],[8.6,2.35],[8.65,2.45],[8.72,2.55],[8.8,2.6],[8.9,2.62],[9.0,2.6],[9.1,2.55],[8.75,2.05],[8.85,2.12],[8.95,2.15],[9.05,2.12],[9.2,2.05],[9.3,1.9],[9.6,1.75],[9.65,1.65],[10.34,1.45],[10.34,2.0]];
const iOutExpCyan = [[6.35,1.75],[6.7,1.65],[7.05,1.55],[7.45,1.35],[7.8,1.28],[8.0,1.15],[8.1,1.15],[8.25,1.3],[8.35,1.5],[8.42,1.75],[8.48,1.95],[8.55,2.15],[8.62,2.35],[8.68,2.5],[8.75,2.6],[8.85,2.68],[8.95,2.68],[9.1,2.6],[9.2,2.55],[8.8,2.1],[8.9,2.15],[9.0,2.12],[9.3,1.9],[9.62,1.8],[10.34,2.0]];
const iMpNonLin = [[5.92,2.57],[6.65,2.87],[7.41,3.61],[7.76,4.21],[8.12,5.1],[8.27,5.44],[8.41,5.71],[8.51,5.82],[8.59,5.83],[8.68,5.78],[8.76,5.62],[8.83,5.44],[8.89,5.26],[9.1,'-'],[9.3,3.59],[9.65,2.55],[10.34,1.43],[10.7,1.29]];
const iOutUpNonLin = [[5.92,1.74],[6.35,1.7],[6.65,1.65],[7.05,1.58],[7.4,1.48],[7.77,1.35],[8.13,1.28],[8.27,1.45],[8.4,1.7],[8.5,1.95],[8.6,2.15],[8.7,2.32],[8.8,2.45],[8.9,2.52],[9.0,2.55],[9.3,2.53],[9.6,2.39],[10.34,2.1],[10.71,2.01]];
const iOutDownNonLin = [[5.92,1.53],[6.35,1.58],[6.65,1.58],[7.05,1.52],[7.4,1.43],[7.77,1.3],[8.13,1.28],[8.27,1.4],[8.4,1.6],[8.5,1.75],[8.6,1.88],[8.7,1.98],[8.8,2.05],[8.9,2.1],[9.0,2.1],[9.3,1.92],[9.6,1.79],[10.34,1.49],[10.71,1.38]];

// ---- tabla de paneles (referencias a los arrays de arriba) ----
const paneles = [
  { blue: aMpExpBlue, green: aMpExpGreen, red: aOutExpRed, cyan: aOutExpCyan, nonlin: aMpNonLin, up: null, down: null, semi: aMpSemi, outSemi: aOutSemi },
  { blue: bMpExpBlue, green: bMpExpGreen, red: bOutExpRed, cyan: bOutExpCyan, nonlin: bMpNonLin, up: bOutUpNonLin, down: bOutDownNonLin },
  { blue: cMpExpBlue, green: cMpExpGreen, red: cOutExpRed, cyan: cOutExpCyan, nonlin: cMpNonLin, up: cOutUpNonLin, down: cOutDownNonLin },
  { blue: dMpExpBlue, green: dMpExpGreen, red: dOutExpRed, cyan: dOutExpCyan, nonlin: dMpNonLin, up: null, down: null, semi: dMpSemi, outSemi: dOutSemi },
  { blue: eMpExpBlue, green: eMpExpGreen, red: eOutExpRed, cyan: eOutExpCyan, nonlin: eMpNonLin, up: eOutUpNonLin, down: eOutDownNonLin },
  { blue: fMpExpBlue, green: fMpExpGreen, red: fOutExpRed, cyan: fOutExpCyan, nonlin: fMpNonLin, up: fOutUpNonLin, down: fOutDownNonLin },
  { blue: gMpExpBlue, green: gMpExpGreen, red: gOutExpRed, cyan: gOutExpCyan, nonlin: gMpNonLin, up: null, down: gOutDownNonLin, semi: gMpSemi, outSemi: gOutSemi },
  { blue: hMpExpBlue, green: hMpExpGreen, red: hOutExpRed, cyan: hOutExpCyan, nonlin: hMpNonLin, up: hOutUpNonLin, down: hOutDownNonLin },
  { blue: iMpExpBlue, green: iMpExpGreen, red: iOutExpRed, cyan: iOutExpCyan, nonlin: iMpNonLin, up: iOutUpNonLin, down: iOutDownNonLin }
];

// ---- estilo ----
const fuente = "'Liberation Sans', Arial, Helvetica, sans-serif";
const colLeft = [71, 388, 705];
const rowTop = [38, 482, 925];
const titleTop = [4, 447, 889];
const anchoPanel = 296, altoPanel = 369;
const simboloX = 'path://M0,0L10,10M0,10L10,0';
const rayado = [7, 5];

let myChart = echarts.init(document.getElementById('chart-container'), null, { renderer: 'canvas' });

let grids = [], xAxes = [], yAxes = [], titles = [], series = [];

function scatter(i, name, data, symbol, size, color, grosor) {
  return {
    type: 'scatter', name: name, xAxisIndex: i, yAxisIndex: i, data: data,
    symbol: symbol, symbolSize: size, silent: true, animation: false,
    itemStyle: { color: 'transparent', borderColor: color, borderWidth: grosor }
  };
}

function linea(i, name, data, color, dashed, symbol, size, hueco) {
  return {
    type: 'line', name: name, xAxisIndex: i, yAxisIndex: i, data: data,
    symbol: symbol, symbolSize: size, showSymbol: true, silent: true, animation: false,
    lineStyle: { color: color, width: 1, type: dashed ? rayado : 'solid' },
    itemStyle: hueco ? { color: 'transparent', borderColor: color, borderWidth: 1 } : { color: color, borderWidth: 0 }
  };
}

paneles.forEach((p, i) => {
  const fila = Math.floor(i / 3), col = i % 3;
  grids.push({ left: colLeft[col], top: rowTop[fila], width: anchoPanel, height: altoPanel, containLabel: false });

  xAxes.push({
    type: 'value', gridIndex: i, min: 5.92, max: 10.72,
    axisLine: { show: true, onZero: false, lineStyle: { color: '#000', width: 1 } },
    axisTick: { show: true, inside: true, length: 4, customValues: xTicks, lineStyle: { color: '#000' } },
    axisLabel: { show: fila === 2, customValues: xTicks, color: '#000', fontSize: 15, fontFamily: fuente, margin: 8 },
    splitLine: { show: true, lineStyle: { color: '#333', type: [1, 3], width: 1 } },
    name: fila === 2 ? 'T*' : '', nameLocation: 'middle', nameGap: 26,
    nameTextStyle: { color: '#000', fontSize: 22, fontFamily: fuente }
  });

  yAxes.push({
    type: 'value', gridIndex: i, min: 0, max: 10, interval: 1,
    axisLine: { show: true, lineStyle: { color: '#000', width: 1 } },
    axisTick: { show: true, inside: true, length: 4, lineStyle: { color: '#000' } },
    minorTick: { show: true, splitNumber: 5, length: 2, lineStyle: { color: '#000' } },
    axisLabel: { show: col === 0, color: '#000', fontSize: 15, fontFamily: fuente, margin: 8 },
    splitLine: { show: true, lineStyle: { color: '#333', type: [1, 3], width: 1 } },
    name: col === 0 ? '{m|ζ/η}{s|3a}' : '', nameLocation: 'middle', nameRotate: 90, nameGap: 32,
    nameTextStyle: {
      rich: {
        m: { fontSize: 22, fontFamily: fuente, color: '#000', verticalAlign: 'top', lineHeight: 30 },
        s: { fontSize: 15, fontFamily: fuente, color: '#000', verticalAlign: 'bottom' }
      }
    }
  });

  const t = panelTitles[i];
  titles.push({
    text: '{t|' + t[0] + '}{s|' + t[1] + '}{t|' + t[2] + '}',
    left: colLeft[col] + anchoPanel / 2, top: titleTop[fila], textAlign: 'center', padding: 0,
    textStyle: {
      fontWeight: 'normal',
      rich: {
        t: { fontSize: 17, fontWeight: 'normal', fontFamily: fuente, color: '#000', verticalAlign: 'top', lineHeight: 26 },
        s: { fontSize: 12, fontWeight: 'normal', fontFamily: fuente, color: '#000', verticalAlign: 'bottom' }
      }
    }
  });

  // marcadores experimentales primero, luego las curvas numericas
  series.push(scatter(i, 'Mp Exp', p.blue, simboloX, 9, '#0000ff', 1.2));
  series.push(scatter(i, 'Mp Exp ', p.green, simboloX, 9, '#008000', 1.2));
  series.push(scatter(i, 'Out Exp', p.red, 'circle', 11, '#ff0000', 1));
  series.push(scatter(i, 'Out Exp ', p.cyan, 'circle', 11, '#00bfbf', 1));
  series.push(linea(i, 'Mp NonLin', p.nonlin, '#ff0000', false, 'circle', 3.5, false));
  if (p.up) series.push(linea(i, 'Out up NonLin', p.up, '#0000ff', true, 'circle', 3.5, false));
  if (p.down) series.push(linea(i, 'Out down NonLin', p.down, '#008000', true, 'circle', 3.5, false));
  if (p.semi) series.push(linea(i, 'Mp Semi\u2212nonlin', p.semi, '#000000', true, 'triangle', 12, true));
  if (p.outSemi) series.push(linea(i, 'Out Semi\u2212nonlin', p.outSemi, '#000000', true, 'circle', 3.5, false));
});

function leyenda(left, top, data, itemHeight) {
  return {
    orient: 'vertical', left: left, top: top, data: data, selectedMode: false,
    itemWidth: 55, itemHeight: itemHeight, itemGap: 5, padding: [5, 8, 5, 8],
    borderColor: '#000', borderWidth: 1, backgroundColor: '#fff', z: 10,
    itemStyle: { borderWidth: 1 }, lineStyle: { width: 1 },
    textStyle: { color: '#000', fontSize: 17, fontFamily: fuente }
  };
}

const legends = [
  leyenda(79, 47, ['Mp Exp', 'Mp Exp '], 9),
  leyenda(396, 47, ['Out Exp', 'Out Exp '], 11),
  leyenda(712, 47, ['Mp NonLin'], 4),
  leyenda(79, 491, ['Mp Semi\u2212nonlin'], 12),
  leyenda(396, 490, ['Out up NonLin', 'Out down NonLin'], 4),
  leyenda(79, 933, ['Out Semi\u2212nonlin'], 4)
];

myChart.setOption({
  backgroundColor: '#fff',
  animation: false,
  title: titles,
  legend: legends,
  grid: grids,
  xAxis: xAxes,
  yAxis: yAxes,
  series: series
});

window.addEventListener('resize', myChart.resize);
</script>
</body>
</html>
